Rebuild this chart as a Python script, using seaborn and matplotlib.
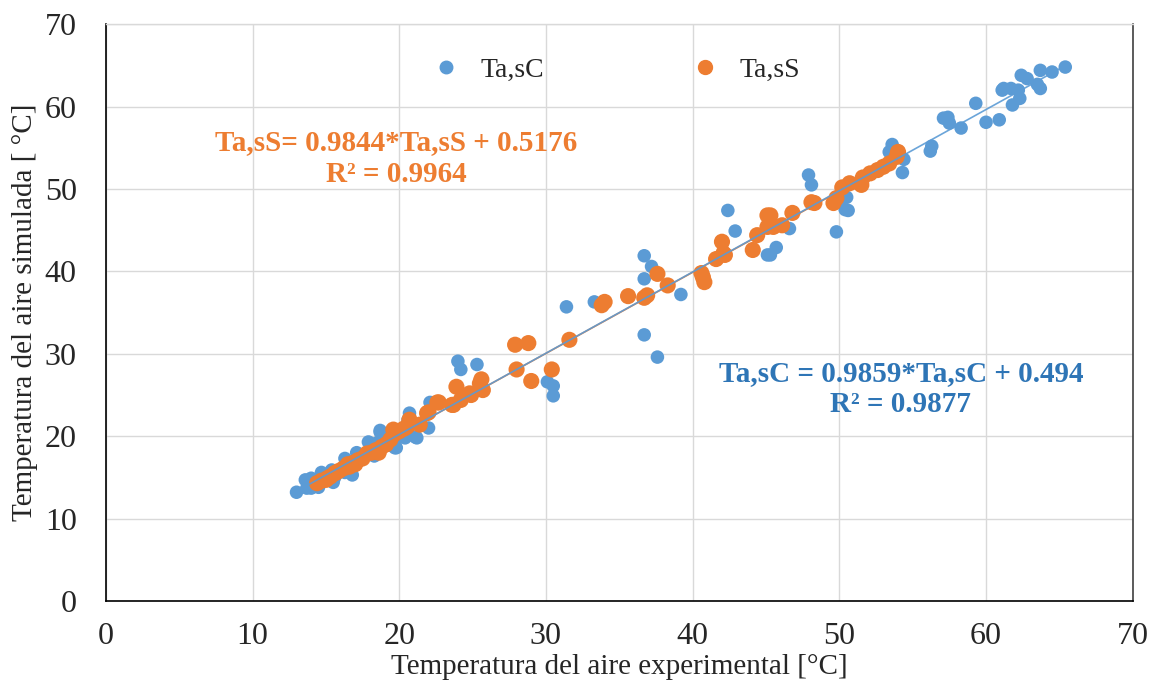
import numpy as np
import pandas as pd
import matplotlib
matplotlib.use("Agg")
import matplotlib.pyplot as plt
import seaborn as sns
from matplotlib.lines import Line2D

# =========================
# DATA
# =========================

# Ta,sC  (blue)
sc_exp = [65.4, 64.5, 63.7, 63.5, 63.7, 62.8, 62.4, 62.2, 61.7, 61.2, 62.3, 61.8, 61.1, 60.9, 60.0,
          59.3, 58.3, 57.4, 57.1, 57.5, 56.3, 56.2, 54.4, 54.3, 53.6, 53.4, 54.0, 50.6, 50.5, 49.8,
          47.9, 48.1, 50.2, 50.4, 46.6, 45.7, 45.3, 42.4, 42.9, 45.1, 36.7, 37.2, 36.7, 39.2, 36.7,
          37.6, 31.4, 33.3, 30.1, 30.5, 30.5, 24.0, 24.2, 25.3, 20.7, 21.1, 22.1, 13.0, 13.6, 14.0,
          14.7, 15.5, 16.8, 17.1, 17.9, 18.7, 19.8, 21.2, 13.7, 14.0, 14.5, 14.8, 15.3, 15.6, 16.0,
          16.3, 16.6, 17.0, 17.3, 17.7, 18.1, 18.5, 18.7, 19.4, 19.7, 19.9, 20.4, 20.6, 20.0, 19.2,
          16.3, 15.4, 22.0, 18.3]
sc_sim = [64.8, 64.2, 64.4, 62.7, 62.2, 63.4, 63.8, 62.0, 62.2, 62.2, 61.0, 60.2, 62.0, 58.4, 58.1,
          60.4, 57.4, 58.7, 58.6, 58.0, 55.2, 54.6, 53.6, 52.0, 55.4, 54.5, 54.6, 47.4, 49.0, 44.8,
          51.7, 50.5, 48.7, 47.5, 45.2, 42.9, 42.0, 47.4, 44.9, 42.0, 41.9, 40.6, 39.1, 37.2, 32.3,
          29.6, 35.7, 36.3, 26.6, 26.1, 24.9, 29.1, 28.1, 28.7, 22.8, 19.9, 24.1, 13.2, 14.7, 13.7,
          15.6, 14.4, 15.3, 18.0, 19.3, 20.7, 18.6, 19.8, 13.7, 14.9, 13.8, 14.6, 15.3, 15.0, 15.9,
          15.6, 16.4, 16.9, 17.3, 17.7, 18.3, 19.2, 20.5, 18.9, 18.6, 19.8, 19.8, 22.0, 20.7, 20.0,
          17.3, 15.9, 21.0, 17.6]

# Ta,sS  (orange)
ss_exp = [14.4, 14.7, 15.0, 15.1, 15.3, 15.6, 15.7, 15.9, 16.2, 16.5, 16.6, 16.9, 17.2, 17.5, 17.8,
          18.1, 18.4, 18.5, 18.8, 19.1, 19.4, 19.6, 19.7, 20.0, 20.3, 20.5, 20.6, 18.6, 21.4, 21.9,
          22.0, 22.6, 22.7, 23.6, 23.7, 23.9, 24.2, 24.8, 24.9, 25.5, 25.6, 25.7, 27.9, 28.8, 28.0,
          29.0, 30.4, 31.6, 33.8, 34.0, 35.6, 36.7, 36.9, 37.6, 38.3, 40.6, 40.7, 40.8, 41.6, 42.0,
          42.1, 42.2, 44.1, 44.4, 45.1, 45.1, 45.3, 45.5, 46.1, 46.8, 48.1, 48.3, 49.6, 49.8, 50.2,
          50.7, 51.5, 51.6, 52.1, 52.6, 53.0, 53.4, 53.9, 54.0, 20.7, 17.0]
ss_sim = [14.3, 14.6, 14.7, 14.9, 15.1, 15.5, 15.6, 15.8, 16.1, 16.6, 16.3, 16.8, 17.1, 17.3, 17.9,
          18.0, 18.3, 18.1, 18.7, 19.0, 19.6, 20.8, 20.3, 20.6, 20.9, 21.1, 21.3, 18.0, 21.4, 22.8,
          22.9, 24.1, 24.1, 23.8, 23.8, 26.0, 24.4, 25.2, 25.0, 26.4, 26.9, 25.6, 31.1, 31.3, 28.1,
          26.7, 28.1, 31.7, 35.9, 36.3, 37.0, 36.8, 37.1, 39.7, 38.3, 39.8, 39.3, 38.7, 41.5, 43.6,
          42.2, 42.0, 42.6, 44.4, 46.8, 45.4, 46.8, 45.4, 45.6, 47.1, 48.4, 48.3, 48.3, 48.9, 50.2,
          50.7, 50.5, 51.4, 51.9, 52.3, 52.7, 53.1, 53.9, 54.5, 22.0, 16.6]

# trendline coefficients (from the chart labels)
sc_slope, sc_icpt = 0.9859, 0.494
ss_slope, ss_icpt = 0.9844, 0.5176

sc_label = "Ta,sC"
ss_label = "Ta,sS"
sc_eq = "Ta,sC = 0.9859*Ta,sC + 0.494\nR² = 0.9877"
ss_eq = "Ta,sS= 0.9844*Ta,sS + 0.5176\nR² = 0.9964"

# =========================
# STYLE
# =========================

sns.set_style("white")
plt.rcParams["font.family"] = ["Liberation Serif", "DejaVu Serif"]

blue = "#5B9BD5"
orange = "#ED7D31"
blue_txt = "#2E75B6"

df_c = pd.DataFrame({"exp": sc_exp, "sim": sc_sim})
df_s = pd.DataFrame({"exp": ss_exp, "sim": ss_sim})

fig = plt.figure(figsize=(11.5, 6.92), dpi=100)
ax = fig.add_axes([0.092, 0.1315, 0.893, 0.8335])

# =========================
# SCATTER
# =========================

sns.scatterplot(data=df_c, x="exp", y="sim", color=blue, s=95,
                edgecolor="none", ax=ax, zorder=3)
sns.scatterplot(data=df_s, x="exp", y="sim", color=orange, s=135,
                edgecolor="none", ax=ax, zorder=4)

# =========================
# TRENDLINES
# =========================

xs = np.array([min(ss_exp), max(ss_exp)])
sns.lineplot(x=xs, y=ss_slope * xs + ss_icpt, color=orange, lw=1.2, ax=ax, zorder=5)
xc = np.array([min(sc_exp), max(sc_exp)])
sns.lineplot(x=xc, y=sc_slope * xc + sc_icpt, color=blue, lw=1.2, ax=ax, zorder=6,
             alpha=0.9)

# =========================
# AXES
# =========================

ax.set_xlim(0, 70)
ax.set_ylim(0, 70)
ax.set_xticks(range(0, 71, 10))
ax.set_yticks(range(0, 71, 10))
ax.grid(True, color="#d9d9d9", lw=1)
ax.set_axisbelow(True)

for side in ["left", "bottom"]:
    ax.spines[side].set_color("black")
    ax.spines[side].set_linewidth(1.2)
ax.spines["right"].set_color("#404040")
ax.spines["right"].set_linewidth(1.2)
ax.spines["top"].set_color("#d9d9d9")
ax.spines["top"].set_linewidth(1)

ax.tick_params(axis="both", labelsize=23, direction="out", length=5,
               width=1, color="black")
ax.tick_params(axis="y", pad=16)
ax.tick_params(axis="x", pad=10)

ax.set_xlabel("Temperatura del aire experimental [°C]", fontsize=21, labelpad=2)
ax.set_ylabel("Temperatura del aire simulada [ °C]", fontsize=21, labelpad=5)

# =========================
# LEGEND + EQUATIONS
# =========================

handles = [
    Line2D([], [], marker="o", ls="none", color=blue, markersize=9),
    Line2D([], [], marker="o", ls="none", color=orange, markersize=10),
]
ax.legend(handles, [sc_label, ss_label], loc="center", bbox_to_anchor=(0.497, 0.92),
          ncol=2, frameon=False, fontsize=20, columnspacing=5.3,
          handlelength=1.0, handletextpad=0.75)

ax.text(19.8, 53.7, ss_eq, color=orange, fontsize=21, fontweight="bold",
        ha="center", va="center", linespacing=1.2)
ax.text(54.2, 25.7, sc_eq, color=blue_txt, fontsize=21, fontweight="bold",
        ha="center", va="center", linespacing=1.2)

plt.savefig("out.png", dpi=100)
